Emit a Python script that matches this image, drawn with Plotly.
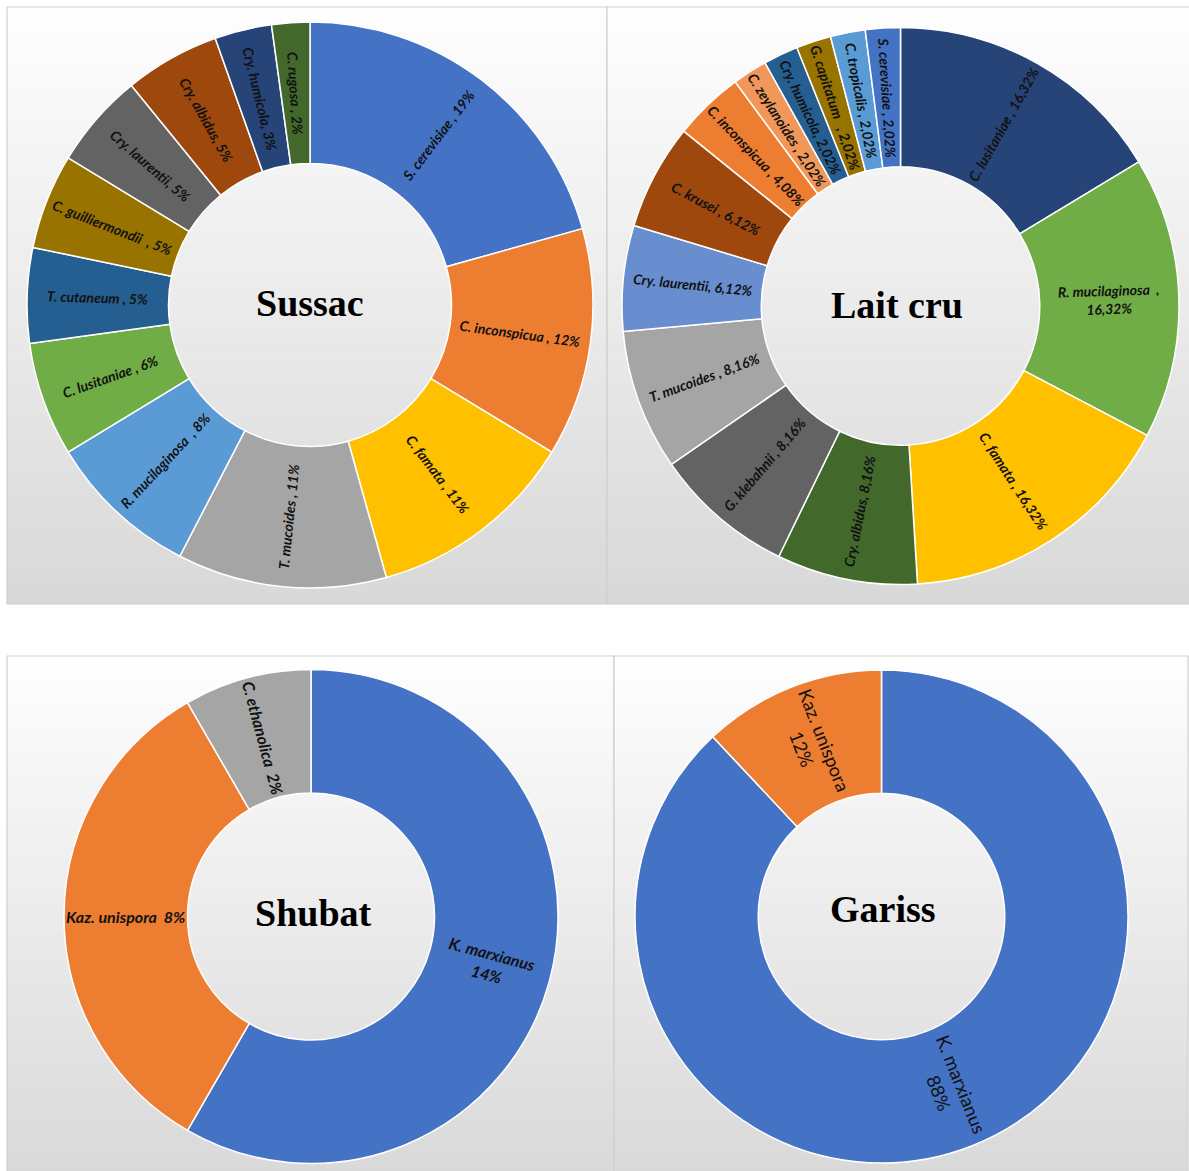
import math
import plotly.graph_objects as go

W, H = 1189, 1171

# ---------------- data ----------------
sussac_names = ["S. cerevisiae", "C. inconspicua", "C. famata", "T. mucoides", "R. mucilaginosa",
                "C. lusitaniae", "T. cutaneum", "C. guilliermondii", "Cry. laurentii", "Cry. albidus",
                "Cry. humicola", "C. rugosa"]
sussac_values = [19, 12, 11, 11, 8, 6, 5, 5, 5, 5, 3, 2]
sussac_seps = [" , ", " , ", " , ", " , ", "  , ", " , ", " , ", "  , ", ", ", ", ", ", ", " , "]
sussac_colors = ["#4472C4", "#ED7D31", "#FFC000", "#A5A5A5", "#5B9BD5", "#70AD47",
                 "#255E91", "#997300", "#636363", "#9E480E", "#264478", "#43682B"]

lait_names = ["C. lusitaniae", "R. mucilaginosa", "C. famata", "Cry. albidus", "G. klebahnii",
              "T. mucoides", "Cry. laurentii", "C. krusei", "C. inconspicua", "C. zeylanoides",
              "Cry. humicola", "G. capitatum", "C. tropicalis", "S. cerevisiae"]
lait_values = [16.32, 16.32, 16.32, 8.16, 8.16, 8.16, 6.12, 6.12, 4.08, 2.02, 2.02, 2.02, 2.02, 2.02]
lait_seps = [" , ", "  ,<br>", " , ", ", ", " , ", " , ", ", ", " , ", " , ", " , ", ", ", "   , ", " , ", " , "]
lait_colors = ["#264478", "#70AD47", "#FFC000", "#43682B", "#636363", "#A5A5A5", "#698ED0",
               "#9E480E", "#ED7D31", "#F1975A", "#255E91", "#997300", "#5B9BD5", "#4472C4"]

shubat_names = ["K. marxianus", "Kaz. unispora", "C. ethanolica"]
shubat_values = [14, 8, 2]
shubat_seps = ["<br>", "  ", "  "]
shubat_colors = ["#4472C4", "#ED7D31", "#A5A5A5"]

gariss_names = ["K. marxianus", "Kaz. unispora"]
gariss_values = [88, 12]
gariss_seps = ["<br>", "<br>"]
gariss_colors = ["#4472C4", "#ED7D31"]

titles = ["Sussac", "Lait cru", "Shubat", "Gariss"]


def fmt(v):
    s = str(int(v)) if float(v).is_integer() else f"{v:.2f}"
    return s.replace(".", ",") + "%"


def texts(names, values, seps):
    return [n + s + fmt(v) for n, v, s in zip(names, values, seps)]


# ---------------- layout helpers (pixels -> paper) ----------------
def px(x):
    return x / W


def py(y):
    return 1 - y / H


def dom(cx, cy, r):
    return dict(x=[px(cx - r), px(cx + r)], y=[py(cy + r), py(cy - r)])


HOLE = 0.5
fig = go.Figure()
annotations = []

pies = [
    (sussac_names, sussac_values, sussac_seps, sussac_colors, (310, 305, 283), 14, "italic", 700),
    (lait_names, lait_values, lait_seps, lait_colors, (900.5, 306, 278.5), 14, "italic", 700),
    (shubat_names, shubat_values, shubat_seps, shubat_colors, (311, 916.5, 247), 16, "italic", 700),
    (gariss_names, gariss_values, gariss_seps, gariss_colors, (881.5, 916.5, 246.5), 18.5, "normal", 400),
]

for names, values, seps, colors, (cx, cy, r), fs, st, wt in pies:
    fig.add_trace(go.Pie(
        labels=names, values=values, textinfo="none",
        sort=False, direction="clockwise", rotation=0, hole=HOLE,
        marker=dict(colors=colors, line=dict(color="white", width=1.5)),
        domain=dom(cx, cy, r), showlegend=False, hoverinfo="label+value",
    ))
    # data labels: placed at each slice's mid-angle, oriented radially (derived from the values)
    total = sum(values)
    cum = 0.0
    rmid = r * (1 + HOLE) / 2
    for txt, v in zip(texts(names, values, seps), values):
        theta = 360.0 * (cum + v / 2) / total  # clockwise from 12 o'clock
        cum += v
        rad = math.radians(theta)
        x = cx + rmid * math.sin(rad)
        y = cy - rmid * math.cos(rad)
        ang = theta - 90
        while ang > 90:
            ang -= 180
        while ang <= -90:
            ang += 180
        annotations.append(dict(
            text=txt, x=px(x), y=py(y), xref="paper", yref="paper", showarrow=False,
            textangle=ang, xanchor="center", yanchor="middle", align="center",
            font=dict(family="Lato", size=fs, color="#111111", style=st, weight=wt)))

# ---------------- panel backgrounds (vertical gradient) ----------------
shapes = []
panels = [(7, 7, 607, 604), (607, 7, 1200, 604),
          (7, 656, 614, 1185), (614, 656, 1188, 1185)]
n = 50
top_c, bot_c = 254, 216
for x0, y0, x1, y1 in panels:
    h = (y1 - y0) / n
    for i in range(n):
        t = (i + 0.5) / n
        g = int(round(top_c + (bot_c - top_c) * t))
        shapes.append(dict(type="rect", xref="paper", yref="paper", layer="below",
                           x0=px(x0), x1=px(x1), y0=py(min(y0 + (i + 1) * h + 0.6, y1)), y1=py(y0 + i * h),
                           fillcolor=f"rgb({g},{g},{g})", line=dict(width=0)))
    shapes.append(dict(type="rect", xref="paper", yref="paper", layer="below",
                       x0=px(x0), x1=px(x1), y0=py(y1), y1=py(y0),
                       fillcolor="rgba(0,0,0,0)", line=dict(color="#CFCFCF", width=1.2)))

centers = [(310, 303), (897, 305), (313, 913), (883, 909)]
for t, (x, y) in zip(titles, centers):
    annotations.append(dict(text=f"<b>{t}</b>", x=px(x), y=py(y), xref="paper", yref="paper",
                            showarrow=False, font=dict(family="Liberation Serif", size=38, color="black"),
                            xanchor="center", yanchor="middle"))

fig.update_layout(width=W, height=H, margin=dict(l=0, r=0, t=0, b=0),
                  paper_bgcolor="white", plot_bgcolor="white",
                  shapes=shapes, annotations=annotations)

fig.write_html("out.html", config={"displayModeBar": False},
               post_script="document.body.style.margin='0';document.body.style.overflow='hidden';")
